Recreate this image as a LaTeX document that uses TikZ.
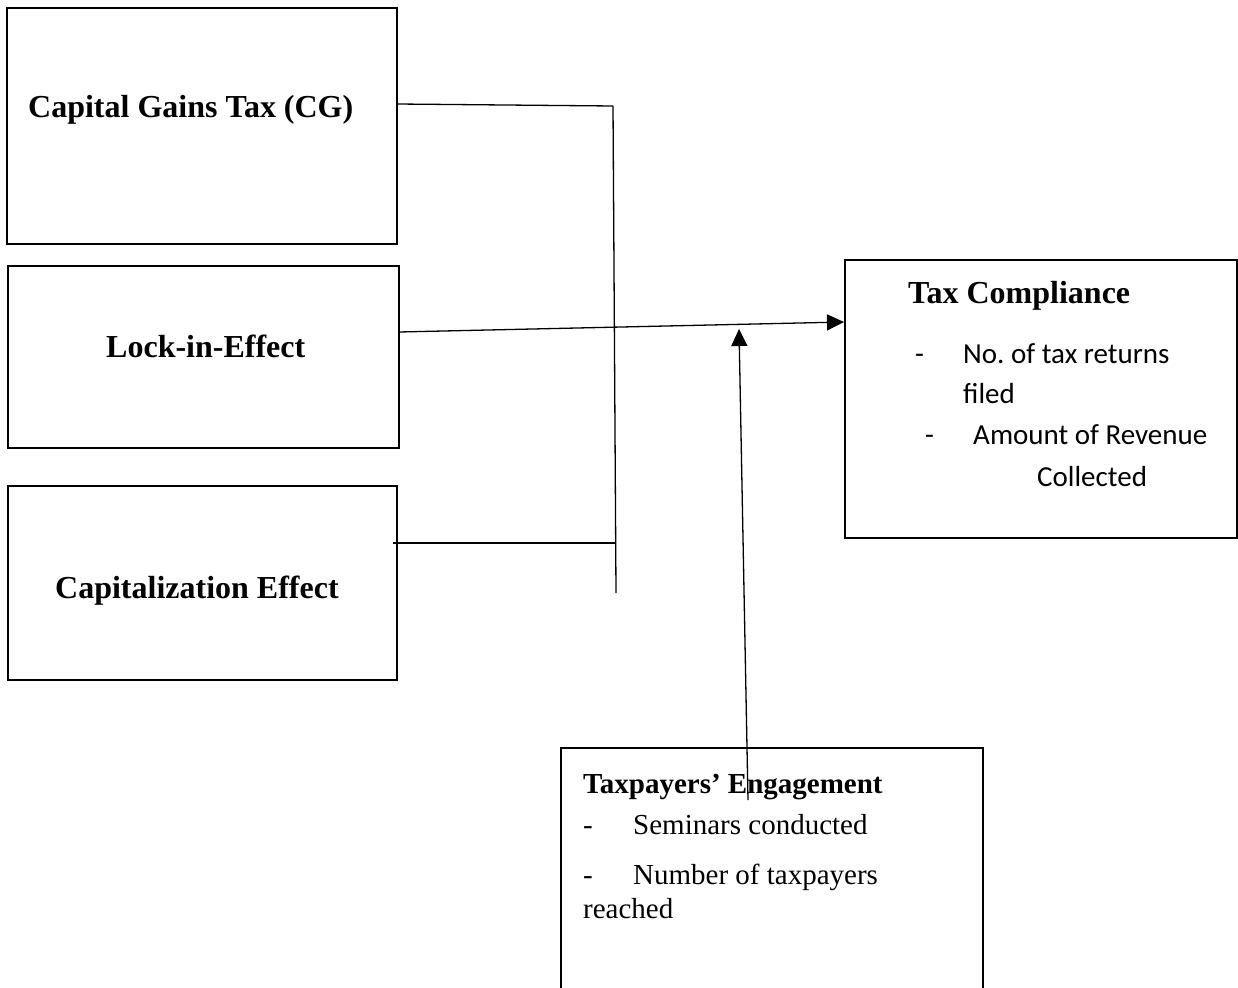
\documentclass[tikz,border=0pt]{standalone}
\usepackage{fontspec}
\setmainfont{Liberation Serif}
\newfontfamily\calfont{Carlito}
\usetikzlibrary{arrows.meta,calc}
\begin{document}
\begin{tikzpicture}[x=1pt,y=-1pt,
  box/.style={draw=black, line width=2.2pt, inner sep=0pt, outer sep=0pt},
  conn/.style={draw=black, line width=1.3pt},
  arr/.style={conn, -{Triangle[length=17pt,width=16pt]}},
  bigtitle/.style={anchor=base west, inner sep=0pt, font=\fontsize{32}{38}\selectfont\bfseries},
  smalltitle/.style={anchor=base west, inner sep=0pt, font=\fontsize{29}{34}\selectfont\bfseries},
  sertext/.style={anchor=base west, inner sep=0pt, font=\fontsize{29}{34}\selectfont},
  caltext/.style={anchor=base west, inner sep=0pt, font=\calfont\fontsize{29}{34}\selectfont}]
\clip (0,0) rectangle (1238,987);
\fill[white] (0,0) rectangle (1238,987);

% boxes
\node[box, minimum width=390pt, minimum height=236pt] (cg) at (202,126) {};
\node[box, minimum width=391pt, minimum height=182pt] (lock) at (203.5,357) {};
\node[box, minimum width=389pt, minimum height=194pt] (cap) at (202.5,583) {};
\node[box, minimum width=392pt, minimum height=278pt] (tc) at (1041,399) {};
\node[box, minimum width=422pt, minimum height=252pt] (te) at (772,874) {};

% box texts
\node[bigtitle] (cgt) at (28,118) {Capital Gains Tax (CG)};
\node[bigtitle] (lockt) at (106,357) {Lock-in-Effect};
\node[bigtitle] (capt) at (55,598) {Capitalization Effect};

\node[bigtitle] (tct) at (908,303) {Tax Compliance};
\node[caltext] (tcd1) at (915,363) {-};
\node[caltext] (tci1) at (963,363) {No.\ of tax returns};
\node[caltext] (tci1b) at (963,403) {filed};
\node[caltext] (tcd2) at (925,444) {-};
\node[caltext] (tci2) at (973,444) {Amount of Revenue};
\node[caltext] (tci2b) at (1037,486) {Collected};

\node[smalltitle] (tet) at (583,793) {Taxpayers’ Engagement};
\node[sertext] (ted1) at (583,834) {-};
\node[sertext] (tei1) at (633,834) {Seminars conducted};
\node[sertext] (ted2) at (583,884) {-};
\node[sertext] (tei2) at (633,884) {Number of taxpayers};
\node[sertext] (tei2b) at (583,918) {reached};

% connectors
\coordinate (j1) at (613,106);
\coordinate (j2) at (616,593);
\coordinate (j3) at (615,543);
\coordinate (tip) at (739,329);

\draw[conn] ($(cg.north east)+(0,96)$) -- (j1);
\draw[conn] (j1) -- (j2);
\draw[conn] ($(cap.north east)+(-4,57)$) -- (j3);
\draw[arr] ($(lock.north east)+(0,66)$) -- ($(tc.north west)+(-1,62)$);
\draw[arr] ($(te.north west)+(187,52)$) -- (tip);
\end{tikzpicture}
\end{document}
